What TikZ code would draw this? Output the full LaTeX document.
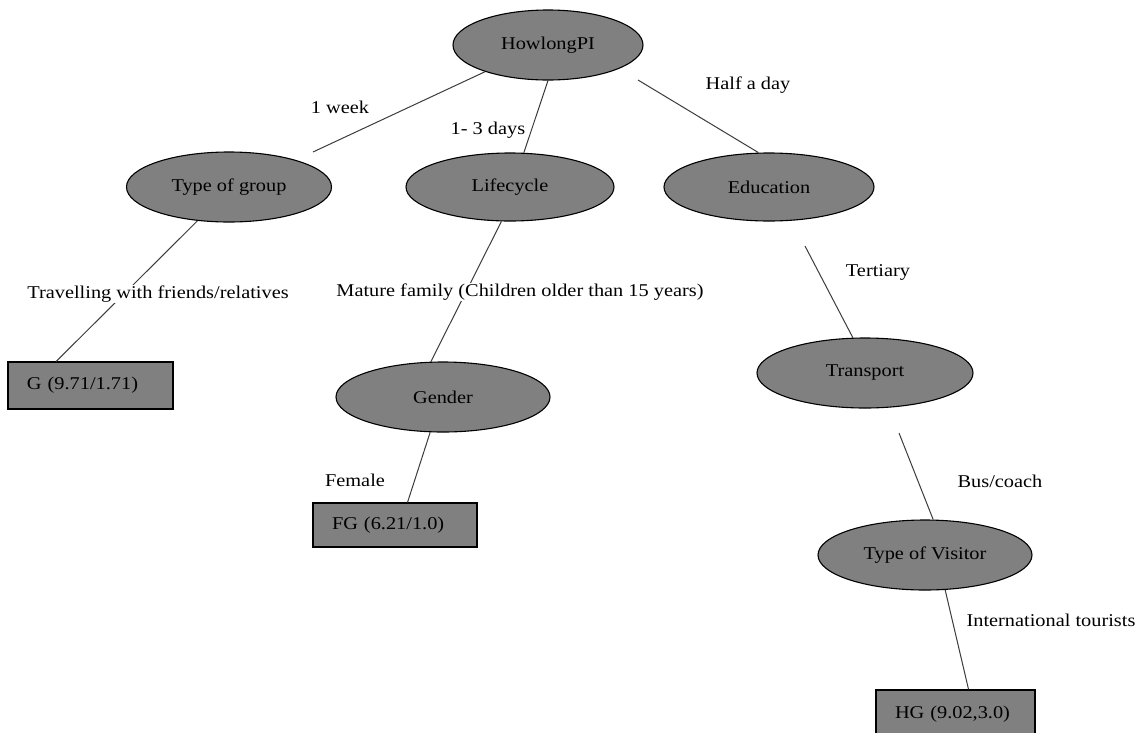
\documentclass[tikz,border=0pt]{standalone}
\usepackage{fontspec}
\setmainfont{Liberation Serif}[FakeStretch=1.13]
\usetikzlibrary{shapes.geometric}
\definecolor{midgray}{RGB}{128,128,128}
\definecolor{linegray}{RGB}{60,60,60}
\begin{document}
\begin{tikzpicture}[x=1pt,y=-1pt,
  every node/.style={font=\fontsize{18}{20}\selectfont},
  ell/.style={ellipse, draw=black, line width=1.1pt, fill=midgray, inner sep=0pt},
  leaf/.style={rectangle, draw=black, line width=1.1pt, fill=midgray, inner ysep=0pt, inner xsep=19pt, align=left},
  lbl/.style={fill=white, inner sep=1pt},
  edge/.style={draw=linegray, line width=1pt}]
\useasboundingbox (0,0) rectangle (1144,732);
\fill[white] (0,0) rectangle (1144,732);

\node[ell, minimum width=190pt, minimum height=70pt] (root) at (548,45) {HowlongPI};
\node[ell, minimum width=205pt, minimum height=70pt] (tog) at (229,187) {Type of group};
\node[ell, minimum width=208pt, minimum height=68pt] (life) at (510,187) {Lifecycle};
\node[ell, minimum width=210pt, minimum height=68pt] (edu) at (769,187) {Education};
\node[ell, minimum width=214pt, minimum height=70pt] (gender) at (443,397) {Gender};
\node[ell, minimum width=216pt, minimum height=70pt] (trans) at (865,373) {Transport};
\node[ell, minimum width=214pt, minimum height=70pt] (tv) at (925,555) {Type of Visitor};

\node[leaf, text width=127pt, minimum height=47pt] (g) at (90.5,385.5) {G (9.71/1.71)};
\node[leaf, text width=126pt, minimum height=44pt] (fg) at (395,525) {FG (6.21/1.0)};
\node[leaf, text width=121pt, minimum height=48pt] (hg) at (955.5,714) {HG (9.02,3.0)};

\coordinate (c1) at (313,152);
\coordinate (c3) at (638,80);
\coordinate (c7) at (805,246);
\coordinate (c8) at (899,433);

\draw[edge] (root.203) -- (c1);
\draw[edge] (root.south) -- (life.68);
\draw[edge] (c3) -- (edu.107);
\draw[edge] (tog.227) -- (g.145);
\draw[edge] (life.256) -- (gender.109);
\draw[edge] (gender.250) -- (fg.61);
\draw[edge] (c7) -- (trans.109);
\draw[edge] (c8) -- (tv.77);
\draw[edge] (tv.300) -- (hg.62);

\node[lbl] (l1) at (340,107) {1 week};
\node[lbl] (l2) at (488,130) {1- 3 days};
\node[lbl] (l3) at (748,85) {Half a day};
\node[lbl] (l4) at (158,294) {Travelling with friends/relatives};
\node[lbl] (l5) at (520,292) {Mature family (Children older than 15 years)};
\node[lbl] (l6) at (878,272) {Tertiary};
\node[lbl] (l7) at (355,480) {Female};
\node[lbl] (l8) at (1000,481) {Bus/coach};
\node[lbl] (l9) at (1051,620) {International tourists};
\end{tikzpicture}
\end{document}
